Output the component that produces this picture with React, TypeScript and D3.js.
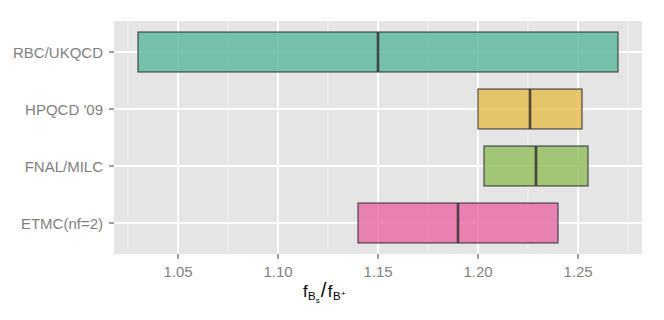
import React from "react";
import * as d3 from "d3";

const categories = ["RBC/UKQCD", "HPQCD '09", "FNAL/MILC", "ETMC(nf=2)"];
const lowValues = [1.03, 1.2, 1.203, 1.14];
const midValues = [1.15, 1.226, 1.229, 1.19];
const highValues = [1.27, 1.252, 1.255, 1.24];
const fillColors = ["#58b79b", "#e6bc4b", "#90bc59", "#e967a5"];
const majorTicks = [1.05, 1.1, 1.15, 1.2, 1.25];
const minorTicks = [1.025, 1.075, 1.125, 1.175, 1.225, 1.275];

const W = 664;
const H = 320;
const panel = { left: 114, right: 642, top: 21, bottom: 254 };

export default function App() {
  const x = d3.scaleLinear().domain([1.018, 1.282]).range([panel.left, panel.right]);
  const y = d3
    .scalePoint<string>()
    .domain(categories)
    .range([52, 223]);
  const step = y.step();
  const barH = step * 0.7;
  const font = "'Liberation Sans', Arial, Helvetica, sans-serif";
  const grey = "#7f7f7f";

  return (
    <svg
      width={W}
      height={H}
      style={{ position: "absolute", left: 0, top: 0, background: "#fff" }}
      fontFamily={font}
    >
      <rect
        x={panel.left}
        y={panel.top}
        width={panel.right - panel.left}
        height={panel.bottom - panel.top}
        fill="#e5e5e5"
      />
      {minorTicks.map((t) => (
        <line
          key={"mn" + t}
          x1={x(t)}
          x2={x(t)}
          y1={panel.top}
          y2={panel.bottom}
          stroke="#f2f2f2"
          strokeWidth={1}
        />
      ))}
      {majorTicks.map((t) => (
        <line
          key={"mj" + t}
          x1={x(t)}
          x2={x(t)}
          y1={panel.top}
          y2={panel.bottom}
          stroke="#ffffff"
          strokeWidth={1.8}
        />
      ))}
      {categories.map((c) => (
        <line
          key={"hg" + c}
          x1={panel.left}
          x2={panel.right}
          y1={y(c)}
          y2={y(c)}
          stroke="#ffffff"
          strokeWidth={1.8}
        />
      ))}
      {categories.map((c, i) => {
        const cy = y(c) as number;
        return (
          <g key={"bar" + c}>
            <rect
              x={x(lowValues[i])}
              y={cy - barH / 2}
              width={x(highValues[i]) - x(lowValues[i])}
              height={barH}
              fill={fillColors[i]}
              fillOpacity={0.8}
              stroke="#333333"
              strokeOpacity={0.8}
              strokeWidth={1.3}
            />
            <line
              x1={x(midValues[i])}
              x2={x(midValues[i])}
              y1={cy - barH / 2}
              y2={cy + barH / 2}
              stroke="#333333"
              strokeOpacity={0.85}
              strokeWidth={2.6}
            />
          </g>
        );
      })}
      {categories.map((c) => (
        <g key={"yl" + c}>
          <line
            x1={panel.left - 5}
            x2={panel.left}
            y1={y(c)}
            y2={y(c)}
            stroke={grey}
            strokeWidth={1.5}
          />
          <text
            x={panel.left - 11}
            y={(y(c) as number) + 5.5}
            textAnchor="end"
            fontSize={15}
            fill={grey}
          >
            {c}
          </text>
        </g>
      ))}
      {majorTicks.map((t) => (
        <g key={"xl" + t}>
          <line
            x1={x(t)}
            x2={x(t)}
            y1={panel.bottom}
            y2={panel.bottom + 5}
            stroke={grey}
            strokeWidth={1.5}
          />
          <text x={x(t)} y={panel.bottom + 23} textAnchor="middle" fontSize={15} fill={grey}>
            {d3.format(".2f")(t)}
          </text>
        </g>
      ))}
      <text x={303} y={297} textAnchor="start" fontSize={16.5} fill="#000">
        <tspan>f</tspan>
        <tspan fontSize={11.5} dy={3} dx={0.5}>B</tspan>
        <tspan fontSize={8} dy={3}>s</tspan>
        <tspan fontSize={20} dy={-6} dx={1}>/</tspan>
        <tspan dx={1.5}>f</tspan>
        <tspan fontSize={11.5} dy={3} dx={0.5}>B</tspan>
        <tspan fontSize={8} dy={-4} dx={0.5}>+</tspan>
      </text>
    </svg>
  );
}
